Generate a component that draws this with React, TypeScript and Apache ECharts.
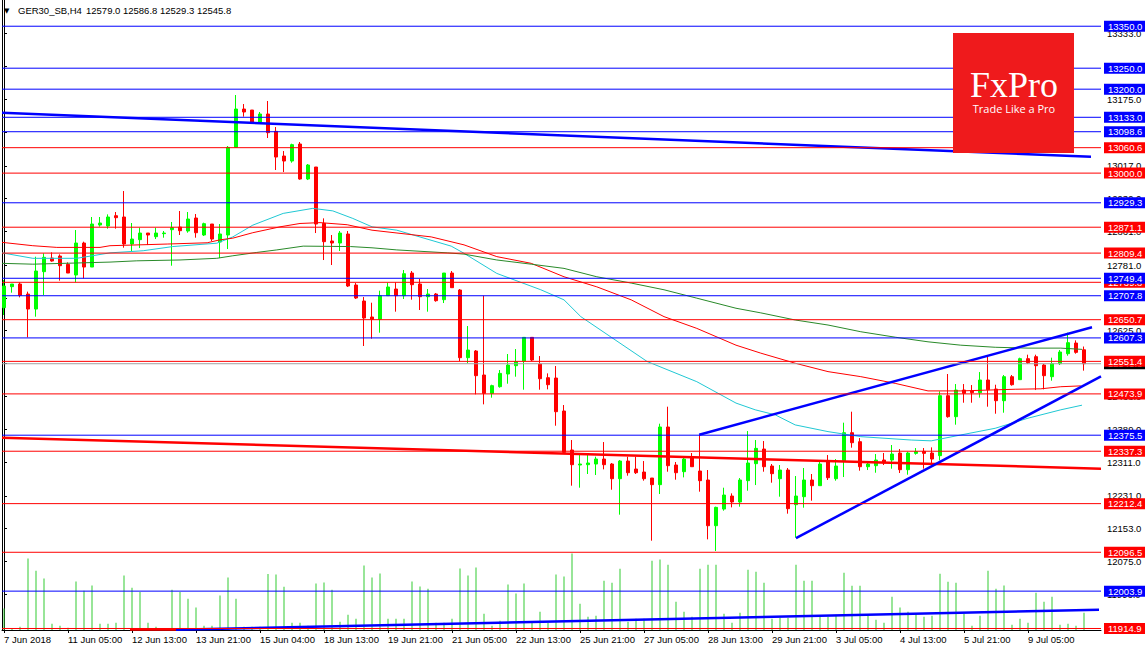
import React, { useEffect, useRef } from 'react';
import * as echarts from 'echarts';

const symbolName = 'GER30_SB,H4';

const opens = [12679.3,12729.4,12735.7,12711.9,12676.1,12765.1,12797.7,12802.4,12782.6,12757.2,12833.4,12776.2,12876.3,12873.9,12898.5,12895.4,12831.0,12841.4,12857.2,12848.5,12855.7,12865.2,12871.5,12862.0,12893.0,12852.5,12878.7,12835.8,12852.5,13061.4,13152.7,13150.3,13121.7,13140.8,13099.5,13040.7,13028.8,13069.3,12985.9,13014.5,12880.3,12838.2,12833.4,12854.9,12733.3,12695.2,12657.1,12651.5,12707.9,12723.8,12707.9,12761.9,12735.7,12705.5,12711.9,12698.4,12761.9,12721.4,12560.2,12576.1,12518.9,12475.2,12491.1,12521.3,12541.1,12552.2,12608.6,12545.1,12512.5,12511.7,12433.1,12340.2,12304.4,12305.2,12306.8,12318.7,12306.8,12271.8,12313.9,12294.9,12287.7,12273.4,12257.6,12395.0,12304.4,12288.5,12321.9,12290.1,12268.7,12159.8,12199.5,12230.5,12216.3,12267.1,12307.6,12342.5,12302.0,12271.8,12292.5,12209.9,12229.0,12268.7,12255.2,12311.6,12271.8,12314.7,12381.4,12360.0,12300.4,12302.8,12316.3,12316.3,12333.0,12293.3,12332.2,12337.0,12333.0,12326.7,12469.6,12419.6,12483.1,12480.7,12476.8,12507.0,12485.5,12457.7,12514.9,12507.8,12557.8,12562.6,12542.7,12514.9,12545.9,12569.7,12595.1,12579.0];
const highs = [12745.2,12735.7,12739.7,12717.5,12800.8,12808.8,12811.2,12806.4,12787.3,12864.4,12836.6,12895.4,12895.4,12901.7,12907.3,12957.3,12881.1,12870.0,12857.2,12870.0,12862.0,12883.5,12909.7,12907.3,12902.5,12881.9,12878.7,12878.7,13064.6,13186.1,13164.6,13150.3,13145.6,13171.8,13109.8,13052.6,13070.1,13074.1,13021.7,13014.5,12892.2,12852.5,12862.0,12862.0,12738.1,12704.7,12691.2,12719.8,12738.9,12739.7,12769.1,12766.7,12747.6,12723.8,12714.3,12761.9,12766.7,12723.8,12635.6,12578.4,12707.9,12495.8,12530.8,12568.9,12580.8,12608.6,12608.6,12564.1,12522.8,12540.3,12447.4,12364.0,12328.2,12332.2,12324.3,12359.2,12309.2,12316.3,12324.3,12324.3,12313.9,12273.4,12402.9,12443.4,12311.6,12321.9,12333.0,12376.7,12292.5,12205.1,12250.4,12236.9,12273.4,12385.4,12364.0,12361.6,12306.8,12304.4,12297.3,12278.2,12297.3,12283.0,12311.6,12328.2,12318.7,12405.3,12431.5,12368.7,12313.9,12330.6,12333.0,12352.1,12342.5,12336.2,12344.9,12344.9,12346.5,12480.0,12521.3,12497.4,12497.4,12495.0,12526.0,12561.8,12495.8,12518.9,12518.9,12560.2,12567.3,12567.3,12545.1,12560.2,12578.4,12619.7,12601.5,12586.8];
const lows = [12661.8,12715.1,12703.9,12608.6,12657.9,12709.5,12788.9,12743.7,12761.9,12739.7,12749.2,12776.2,12872.3,12867.6,12867.6,12822.3,12814.4,12821.5,12828.6,12842.9,12846.1,12779.4,12852.5,12858.0,12846.1,12850.1,12838.2,12797.7,12819.1,13061.4,13134.5,13121.7,13121.7,13083.6,13007.4,13002.6,13024.8,12984.3,12983.5,12857.2,12792.9,12781.0,12814.4,12728.6,12700.0,12588.0,12605.5,12619.7,12707.9,12669.8,12700.0,12698.4,12673.8,12669.8,12693.6,12690.4,12727.0,12552.2,12546.7,12472.8,12449.0,12464.9,12488.7,12498.2,12514.9,12483.9,12552.2,12483.9,12484.7,12398.1,12332.2,12255.2,12250.4,12283.0,12280.6,12294.1,12245.6,12186.1,12279.0,12283.0,12267.1,12124.1,12235.3,12288.5,12269.5,12275.0,12300.4,12240.9,12127.3,12099.5,12195.6,12203.5,12205.1,12243.2,12256.7,12288.5,12262.3,12229.0,12188.5,12131.3,12202.7,12219.4,12255.2,12268.7,12267.1,12275.8,12345.7,12290.9,12292.5,12286.1,12304.4,12295.7,12285.4,12281.4,12329.0,12295.7,12304.4,12315.5,12417.2,12400.5,12452.9,12452.9,12464.9,12443.4,12426.7,12429.1,12493.5,12507.0,12545.1,12483.1,12484.7,12505.4,12542.7,12564.9,12569.7,12529.3];
const closes = [12731.0,12735.7,12708.7,12676.1,12766.7,12799.3,12790.5,12779.4,12761.9,12833.4,12776.2,12878.7,12881.1,12895.4,12893.8,12831.0,12842.9,12857.2,12852.5,12857.2,12857.2,12870.0,12862.8,12890.6,12858.0,12879.5,12842.9,12854.9,13061.4,13152.7,13145.6,13121.7,13140.8,13096.3,13038.3,13028.8,13067.7,12985.9,13019.3,12878.7,12836.6,12833.4,12857.2,12731.0,12702.4,12654.7,12651.5,12707.9,12728.6,12707.9,12760.3,12734.1,12705.5,12711.9,12696.0,12761.9,12727.0,12560.2,12578.4,12517.3,12475.2,12493.5,12522.8,12542.7,12550.6,12608.6,12554.6,12510.1,12495.8,12431.5,12334.6,12305.2,12306.8,12309.2,12318.7,12305.2,12271.8,12313.9,12286.1,12286.1,12271.8,12257.6,12395.0,12302.8,12286.1,12318.7,12300.4,12267.1,12159.8,12203.5,12232.9,12216.3,12268.7,12309.2,12344.1,12300.4,12283.8,12292.5,12200.4,12230.5,12268.7,12255.2,12306.8,12274.2,12302.0,12381.4,12357.6,12300.4,12306.8,12316.3,12309.2,12330.6,12293.3,12333.0,12336.2,12332.2,12318.7,12469.6,12419.6,12483.1,12475.2,12476.8,12507.0,12483.9,12457.7,12514.9,12495.8,12557.8,12548.3,12541.1,12517.3,12545.9,12573.7,12595.9,12572.9,12545.8];
const volumes = [2160,200,330,7160,5930,5160,630,430,230,4860,3930,4460,630,630,730,5460,4230,3800,730,330,130,4030,3800,3130,2260,430,430,3460,5260,3130,330,330,330,5600,5560,4330,730,730,430,4660,4760,4030,830,1530,1130,6460,5260,5660,1130,1130,1130,4860,4360,4130,730,730,1130,6160,5460,6260,1630,430,930,4560,3660,4660,730,1830,730,5560,5360,7660,2630,1330,1430,4930,4730,6130,830,1130,1130,6930,7060,6530,2830,1830,1330,6130,6530,6530,1630,730,1730,6030,5830,4730,1130,1230,1230,6530,4930,4930,1330,1330,1530,5730,4430,4430,1430,1030,730,3330,2260,1830,1630,1330,1430,5630,4830,4730,1630,430,1430,5930,4130,4460,530,1130,730,3730,2830,3330,530,630,430,1730];

const timeLabels = ['7 Jun 2018','11 Jun 05:00','12 Jun 13:00','13 Jun 21:00','15 Jun 04:00','18 Jun 13:00','19 Jun 21:00','21 Jun 05:00','22 Jun 13:00','25 Jun 21:00','27 Jun 05:00','28 Jun 13:00','29 Jun 21:00','3 Jul 05:00','4 Jul 13:00','5 Jul 21:00','9 Jul 05:00'];
const timeLabelBars = [0,8,16,24,32,40,48,56,64,72,80,88,96,104,112,120,128];

const priceTicks = [13333,13254,13175,13097,13017,12939,12861,12781,12703,12625,12547,12468,12389,12311,12231,12153,12075,11996];

const blueLevels = [13350.0,13250.0,13200.0,13133.0,13098.6,12929.3,12749.4,12707.8,12607.3,12375.5,12003.9];
const redLevels = [13060.6,13000.0,12871.1,12809.4,12739.8,12650.7,12551.4,12473.9,12337.3,12212.4,12096.5,11914.9];
const bidPrice = 12545.8;

const cyanMA = [[-0.25,12810],[3.6,12797],[9.1,12797],[13.25,12810],[17.4,12815],[21.1,12825],[26.6,12833],[28.6,12848],[31.1,12876],[34.9,12904],[38.6,12916],[41.1,12910],[43.6,12892],[46,12872],[49.1,12864],[55.9,12826],[57.5,12809],[61.6,12761],[67.1,12722],[70,12698],[72.1,12658],[75.9,12609],[80.4,12551],[86.6,12503],[91.5,12452],[93.9,12436],[96.4,12424],[98.9,12400],[103,12384],[107.1,12372],[113.4,12364],[115.9,12362],[119.6,12376],[123.9,12392],[128,12416],[132.1,12436],[134.75,12447]];
const redMA = [[-0.25,12835],[3.6,12827],[6.6,12823],[12,12823],[13.25,12827],[20.4,12831],[25.4,12834],[27,12841],[28.6,12845],[31.1,12858],[34.5,12872],[37,12880],[39.5,12882],[42.9,12877],[46,12864],[53.4,12848],[57.5,12829],[61.6,12801],[65.9,12785],[70,12753],[74.1,12729],[78.4,12698],[82.5,12658],[86.6,12630],[91.5,12590],[94.6,12571],[98.9,12547],[103,12527],[107.1,12515],[111.4,12499],[115.5,12481],[119.6,12481],[126.4,12485],[129.6,12486],[132.1,12491],[134.6,12493]];
const greenMA = [[-0.25,12785],[3.6,12783],[13.25,12788],[16.6,12791],[22,12793],[26.6,12797],[28.6,12803],[31.6,12811],[34.1,12817],[37.4,12826],[43.3,12825],[46,12822],[49.1,12817],[55.4,12810],[57.5,12807],[61.6,12793],[65.9,12783],[70,12773],[74.1,12753],[78.4,12738],[82.5,12722],[86.6,12702],[91.5,12678],[94.6,12667],[98.9,12650],[103,12638],[107.1,12622],[111.4,12609],[115.5,12598],[119.6,12590],[123.9,12585],[128,12583],[132.1,12583],[134.75,12580]];

const trendDown = [[-0.25,13144],[135.875,13039]];
const trendRed = [[-0.25,12369.5],[137.125,12295.7]];
const trendBottomBlue = [[21.5,11911.8],[136.875,11959.7]];
const trendBottomRed = [[15.75,11912.3],[21.5,11912.3]];
const channelUpper = [[86.9,12376.7],[136,12632.6]];
const channelLower = [[99,12130],[137.125,12515.5]];

const FONT = 'Liberation Sans, Arial, sans-serif';
const X_MIN = -0.25;
const X_MAX = 137.125;
const Y_MIN = 11911.3;
const Y_MAX = 13412.5;

function lineSeries(data: number[][], color: string, width: number, z: number) {
  return {
    type: 'line',
    data,
    xAxisIndex: 0,
    yAxisIndex: 0,
    showSymbol: false,
    symbol: 'none',
    silent: true,
    lineStyle: { color, width },
    z,
  };
}

function levelSeries(v: number, color: string, bg: string, z: number) {
  return {
    type: 'line',
    data: [[X_MIN, v], [X_MAX, v]],
    xAxisIndex: 0,
    yAxisIndex: 0,
    showSymbol: false,
    symbol: 'none',
    silent: true,
    clip: false,
    lineStyle: { color, width: 1 },
    z,
    endLabel: {
      show: true,
      distance: 3,
      formatter: () => v.toFixed(1),
      color: '#FFFFFF',
      backgroundColor: bg,
      fontSize: 9.5,
      fontFamily: FONT,
      padding: [1, 4, 0, 4],
      lineHeight: 10,
    },
  };
}

export default function App() {
  const ref = useRef<HTMLDivElement>(null);
  useEffect(() => {
    if (!ref.current) return;
    const chart = echarts.init(ref.current, null, { renderer: 'svg' });
    const labelMap: Record<number, string> = {};
    timeLabelBars.forEach((b, k) => { labelMap[b] = timeLabels[k]; });

    const levels: any[] = [levelSeries(bidPrice, '#A0A0A0', '#000000', 5)];
    redLevels.forEach((v) => levels.push(levelSeries(v, '#FF0000', '#FF0000', 5)));
    blueLevels.forEach((v) => levels.push(levelSeries(v, '#0000FF', '#0000FF', 5)));

    const option: any = {
      animation: false,
      backgroundColor: '#FFFFFF',
      grid: { left: 2, right: 44, top: 0, bottom: 21, containLabel: false },
      xAxis: [{
        type: 'value',
        min: X_MIN,
        max: X_MAX,
        axisLine: { show: true, onZero: false, lineStyle: { color: '#000', width: 1 } },
        axisTick: { show: true, customValues: timeLabelBars, length: 3, lineStyle: { color: '#000' } },
        axisLabel: {
          customValues: timeLabelBars,
          formatter: (v: number) => labelMap[Math.round(v)] ?? '',
          align: 'left',
          margin: 4,
          fontSize: 9.5,
          fontFamily: FONT,
          color: '#000',
        },
        splitLine: { show: false },
      }],
      yAxis: [{
        type: 'value',
        position: 'right',
        min: Y_MIN,
        max: Y_MAX,
        axisLine: { show: true, lineStyle: { color: '#000', width: 1 } },
        axisTick: { show: true, customValues: priceTicks, length: 3, lineStyle: { color: '#000' } },
        axisLabel: {
          customValues: priceTicks,
          formatter: (v: number) => Number(v).toFixed(1),
          margin: 6,
          fontSize: 9.5,
          fontFamily: FONT,
          color: '#000',
        },
        splitLine: { show: false },
      }, {
        type: 'value',
        position: 'left',
        min: 0,
        max: 63000,
        axisLine: { show: true, lineStyle: { color: '#000', width: 1 } },
        axisTick: { show: false },
        axisLabel: { show: false },
        splitLine: { show: false },
      }],
      series: [
        {
          type: 'bar',
          xAxisIndex: 0,
          yAxisIndex: 1,
          data: volumes.map((v, i) => [i, v]),
          barWidth: 1,
          itemStyle: { color: '#33CC33' },
          silent: true,
          z: 1,
        },
        {
          type: 'candlestick',
          xAxisIndex: 0,
          yAxisIndex: 0,
          data: opens.map((o, i) => [i, o, closes[i], lows[i], highs[i]]),
          barWidth: 4,
          itemStyle: {
            color: '#00FF00',
            color0: '#FF0000',
            borderColor: '#00FF00',
            borderColor0: '#FF0000',
            borderWidth: 1,
          },
          silent: true,
          z: 2,
        },
        lineSeries(cyanMA, '#20C8D4', 1, 3),
        lineSeries(redMA, '#FF0000', 1, 3),
        lineSeries(greenMA, '#2A8A2A', 1, 3),
        lineSeries(trendDown, '#0000FF', 2.5, 4),
        lineSeries(trendRed, '#FF0000', 2.5, 4),
        lineSeries(trendBottomRed, '#FF0000', 2.5, 4),
        lineSeries(trendBottomBlue, '#0000FF', 2.5, 4),
        lineSeries(channelUpper, '#0000FF', 2.5, 4),
        lineSeries(channelLower, '#0000FF', 2.5, 4),
        ...levels,
      ],
      graphic: [
        { type: 'text', x: 4, y: 10.5, style: { text: '\u25BC', fontSize: 7, fontFamily: 'DejaVu Sans', fill: '#000', align: 'left', verticalAlign: 'middle' }, z: 20 },
        { type: 'text', x: 18, y: 10.5, style: { text: symbolName, fontSize: 9.5, fontFamily: FONT, fill: '#000', align: 'left', verticalAlign: 'middle' }, z: 20 },
        { type: 'text', x: 86, y: 10.5, style: { text: [opens[opens.length - 1], highs[highs.length - 1], lows[lows.length - 1], closes[closes.length - 1]].map((v) => v.toFixed(1)).join(' '), fontSize: 9.5, fontFamily: FONT, fill: '#000', align: 'left', verticalAlign: 'middle' }, z: 20 },
        { type: 'rect', shape: { x: 953, y: 33, width: 121, height: 120 }, style: { fill: '#EF1A1C' }, z: 30 },
        { type: 'text', x: 1014, y: 85, style: { text: 'FxPro', fill: '#FFFFFF', fontFamily: 'Liberation Serif, serif', fontSize: 36, align: 'center', verticalAlign: 'middle' }, z: 31 },
        { type: 'text', x: 1014, y: 108, style: { text: 'Trade Like a Pro', fill: '#FFFFFF', fontFamily: 'Open Sans, sans-serif', fontSize: 11, align: 'center', verticalAlign: 'middle' }, z: 31 },
      ],
    };
    chart.setOption(option);
    return () => { chart.dispose(); };
  }, []);
  return (
    <div
      ref={ref}
      style={{ position: 'fixed', left: 0, top: 0, width: 1145, height: 651, background: '#FFFFFF' }}
    />
  );
}
